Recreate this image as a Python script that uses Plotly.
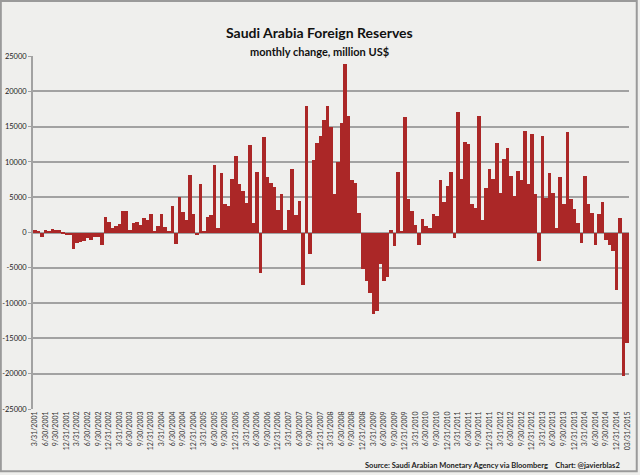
import pandas as pd
import plotly.graph_objects as go

# monthly change in reserves, million US$, Mar 2001 .. Mar 2015
changes = [
    300, 200, -700, 400, 200, 500, 400, 300, -100, -300,
    -300, -2400, -1500, -1400, -1200, -800, -1100, -700, -600, -1700,
    2200, 1500, 600, 900, 1200, 3100, 3000, 400, 1400, 1500,
    1000, 2000, 1800, 2600, 200, 900, 2600, 800, 100, 3700,
    -1600, 5000, 2900, 1800, 8200, 2600, -300, 6800, 100, 2200,
    2500, 9600, 700, 8400, 4100, 3700, 7600, 10900, 6900, 5900,
    4200, 12400, 1400, 8600, -5800, 13500, 7800, 7000, 6400, 3200,
    5400, 400, 3200, 9000, 2500, 4400, -7500, 17900, -3100, 10200,
    12700, 13700, 16000, 17900, 15000, 5400, 10000, 15500, 23800, 16500,
    7400, 7000, 2800, -5200, -6900, -8500, -11600, -11100, -4400, -6900,
    -6300, 300, -1900, 8600, 200, 16300, 4700, 3000, 1100, -1800,
    1900, 900, 700, 2600, 2300, 7500, 4300, 6600, 8500, -800,
    17000, 7600, 12800, 12600, 4100, 3500, 16500, 1800, 6300, 9000,
    7600, 12700, 5600, 10400, 11900, 8000, 5100, 8700, 7500, 14400,
    6800, 13900, 5400, -4100, 13700, 4900, 8400, 5600, 700, 7900,
    4100, 14200, 4800, 3400, 1300, -1500, 8000, 4100, 2800, -1800,
    2600, 4300, -1100, -1800, -2600, -8200, 2100, -20300, -15600,
]

months = pd.date_range('2001-03-31', periods=len(changes), freq='ME')
month_labels = [f'{d.month}/{d.day}/{d.year}' for d in months]
month_labels[-1] = '03/31/2015'

# label every quarter
x_tickvals = month_labels[::3]
y_tickvals = [25000, 20000, 15000, 10000, 5000, 0, -5000, -10000, -15000, -20000, -25000]
y_ticktext = [str(v) for v in y_tickvals]

bar_red = '#ab2727'
grid_grey = '#a2a2a2'
bg = '#efefed'

fig = go.Figure(go.Bar(x=month_labels, y=changes,
                       marker=dict(color=bar_red, line=dict(width=0))))

fig.update_layout(
    width=640, height=475,
    margin=dict(l=33, r=11, t=56, b=66),
    paper_bgcolor=bg, plot_bgcolor=bg,
    bargap=0,
    showlegend=False,
    font=dict(family='Lato', color='#222222'),
)

fig.update_xaxes(
    type='category', automargin=False,
    tickmode='array', tickvals=x_tickvals, ticktext=x_tickvals,
    tickangle=-90,
    tickfont=dict(size=7, color='#333333'),
    showgrid=False, zeroline=False, showline=False,
)

fig.update_yaxes(
    range=[-25000, 25000], automargin=False,
    tickmode='array', tickvals=y_tickvals, ticktext=y_ticktext,
    tickfont=dict(size=7.5, color='#222222'),
    showgrid=True, gridcolor=grid_grey, gridwidth=1.6,
    zeroline=True, zerolinecolor=grid_grey, zerolinewidth=1.6,
    showline=True, linecolor=grid_grey, linewidth=1.6,
    ticks='outside', ticklen=3, tickcolor=grid_grey,
)

# titles and credits
fig.add_annotation(text='<b>Saudi Arabia Foreign Reserves</b>',
                   xref='paper', yref='paper', x=0.4815, y=1.096,
                   showarrow=False, font=dict(size=14, color='#111111'))
fig.add_annotation(text='<b>monthly change, million US$</b>',
                   xref='paper', yref='paper', x=0.4815, y=1.037,
                   showarrow=False, font=dict(size=11, color='#111111'))
fig.add_annotation(text='<b>Source: Saudi Arabian Monetary Agency via Bloomberg&nbsp;&nbsp;&nbsp;&nbsp;Chart: @javierblas2</b>',
                   xref='paper', yref='paper', x=0.988, y=-0.159,
                   xanchor='right', yanchor='middle',
                   showarrow=False, font=dict(size=7.5, color='#222222'))

# outer frame of the picture
fig.add_shape(type='rect', xref='paper', yref='paper',
              x0=-0.054, x1=1.013, y0=-0.176, y1=1.156,
              line=dict(color='#9a9a9a', width=2))

fig.write_html('out.html', config={'displayModeBar': False},
               post_script="document.body.style.margin='0';")
